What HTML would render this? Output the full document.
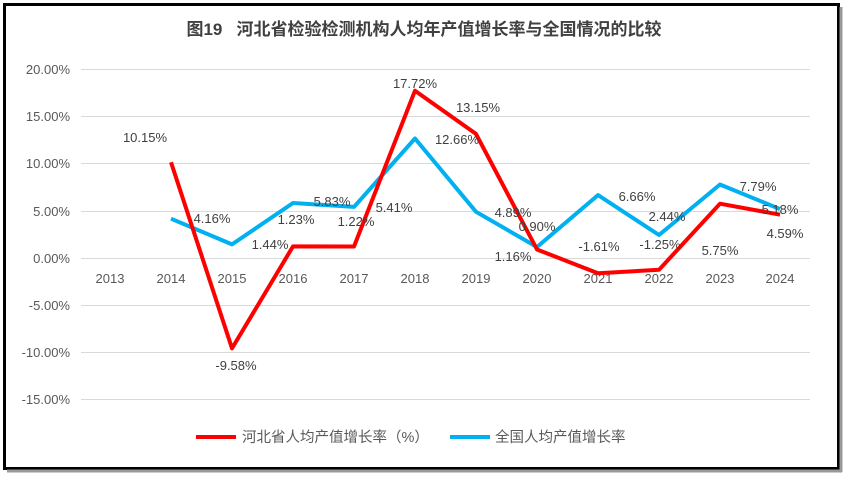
<!DOCTYPE html>
<html><head><meta charset="utf-8"><style>
body{margin:0;background:#fff;}
svg text{font-family:"Liberation Sans","Noto Sans CJK SC",sans-serif;}
</style></head><body>
<svg width="845" height="476" xmlns="http://www.w3.org/2000/svg">
<rect x="0" y="0" width="845" height="476" fill="#fff"/>
<rect x="4.5" y="4.5" width="834" height="464" fill="none" stroke="#000" stroke-width="3"/>
<line x1="841" y1="7" x2="841" y2="472" stroke="#999" stroke-width="3"/>
<line x1="7" y1="471" x2="842" y2="471" stroke="#999" stroke-width="3"/>
<text x="424" y="35" text-anchor="middle" font-size="17" font-weight="bold" fill="#404040" xml:space="preserve">图19   河北省检验检测机构人均年产值增长率与全国情况的比较</text>
<g stroke="#d9d9d9" stroke-width="1">
<line x1="81" x2="810" y1="69.5" y2="69.5"/><line x1="81" x2="810" y1="116.5" y2="116.5"/>
<line x1="81" x2="810" y1="163.5" y2="163.5"/><line x1="81" x2="810" y1="211.5" y2="211.5"/>
<line x1="81" x2="810" y1="258.5" y2="258.5"/><line x1="81" x2="810" y1="305.5" y2="305.5"/>
<line x1="81" x2="810" y1="352.5" y2="352.5"/><line x1="81" x2="810" y1="399.5" y2="399.5"/>
</g>
<g font-size="13" fill="#595959" text-anchor="end">
<text x="70" y="74">20.00%</text><text x="70" y="121">15.00%</text><text x="70" y="168">10.00%</text>
<text x="70" y="216">5.00%</text><text x="70" y="263">0.00%</text><text x="70" y="310">-5.00%</text>
<text x="70" y="357">-10.00%</text><text x="70" y="404">-15.00%</text>
</g>
<g font-size="13" fill="#595959" text-anchor="middle">
<text x="110" y="283">2013</text><text x="171" y="283">2014</text><text x="232" y="283">2015</text>
<text x="293" y="283">2016</text><text x="354" y="283">2017</text><text x="415" y="283">2018</text>
<text x="476" y="283">2019</text><text x="537" y="283">2020</text><text x="598" y="283">2021</text>
<text x="659" y="283">2022</text><text x="720" y="283">2023</text><text x="780" y="283">2024</text>
</g>
<polyline fill="none" stroke="#00b0f0" stroke-width="4" stroke-linejoin="round" points="171,218.7 232,244.4 293,203 354,206.9 415,138.5 476,211.8 537,247 598,195.1 659,235 720,184.5 780,209.1"/>
<polyline fill="none" stroke="#ff0000" stroke-width="4" stroke-linejoin="round" points="171,162.2 232,348.4 293,246.4 354,246.5 415,90.7 476,133.9 537,249.5 598,273.2 659,269.8 720,203.7 780,214.7"/>
<g font-size="13" fill="#404040" text-anchor="middle">
<text x="145" y="142">10.15%</text><text x="236" y="370">-9.58%</text><text x="296" y="224">1.23%</text>
<text x="270" y="249">1.44%</text><text x="212" y="223">4.16%</text><text x="332" y="206">5.83%</text>
<text x="356" y="226">1.22%</text><text x="394" y="212">5.41%</text><text x="415" y="88">17.72%</text>
<text x="457" y="144">12.66%</text><text x="478" y="112">13.15%</text><text x="513" y="217">4.89%</text>
<text x="537" y="231">0.90%</text><text x="513" y="261">1.16%</text><text x="599" y="251">-1.61%</text>
<text x="637" y="201">6.66%</text><text x="667" y="221">2.44%</text><text x="660" y="249">-1.25%</text>
<text x="720" y="255">5.75%</text><text x="758" y="191">7.79%</text><text x="780" y="214">5.18%</text>
<text x="785" y="238">4.59%</text>
</g>
<line x1="196" y1="437" x2="236" y2="437" stroke="#ff0000" stroke-width="4"/>
<text x="242" y="442" font-size="14.5" fill="#595959">河北省人均产值增长率（%）</text>
<line x1="450" y1="437" x2="490" y2="437" stroke="#00b0f0" stroke-width="4"/>
<text x="495" y="442" font-size="14.5" fill="#595959">全国人均产值增长率</text>
</svg>
</body></html>
